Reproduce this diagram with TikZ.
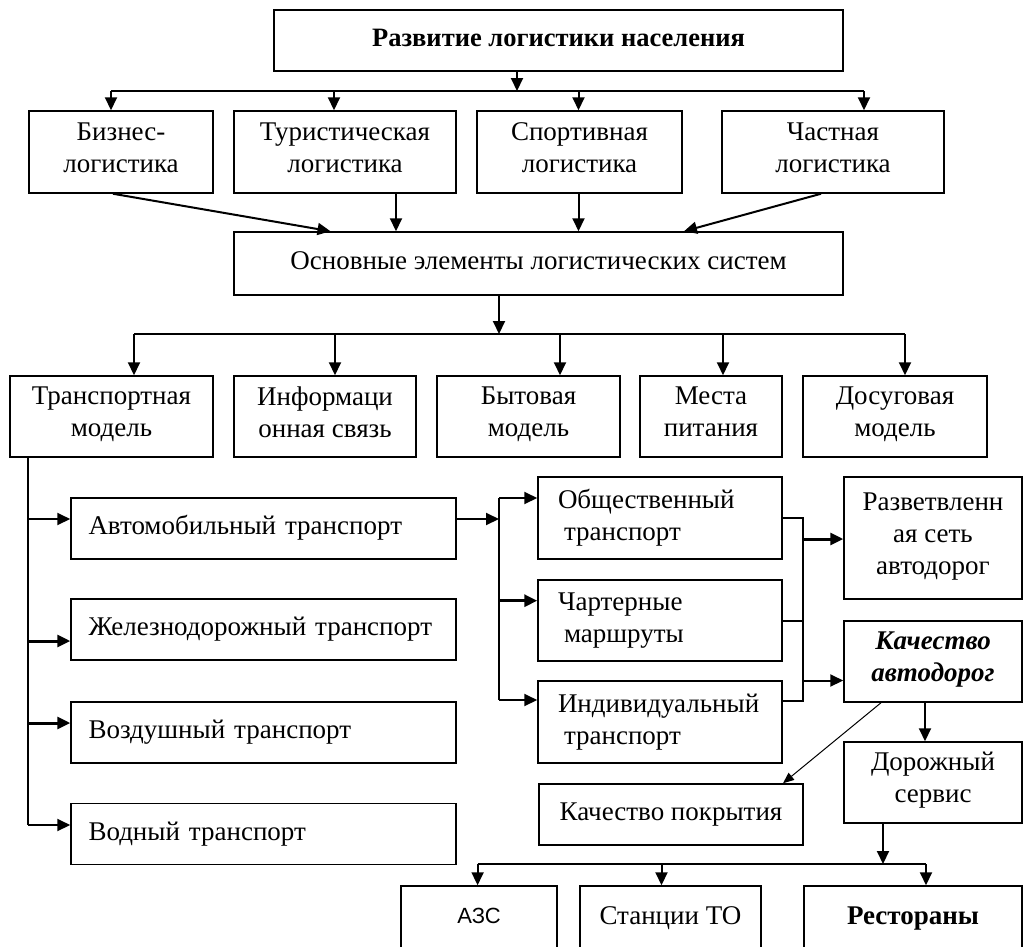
\documentclass[tikz,border=0pt]{standalone}
\usepackage{fontspec}
\setmainfont{Liberation Serif}
\newfontfamily\azsfont{Liberation Sans}
\usetikzlibrary{arrows.meta}
\tikzset{
  box/.style={draw, line width=1.5pt, inner sep=0pt, align=center, font=\fontsize{27}{32}\selectfont,
    execute at begin node=\strut, execute at end node=\strut},
  lbox/.style={box, align=left},
  line/.style={line width=2pt},
  arr/.style={line width=2pt, -{Triangle[length=13pt,width=12pt]}},
  heavy/.style={line width=3pt},
  thinarr/.style={line width=1pt, -{Triangle[length=11pt,width=9pt]}}
}
\begin{document}
\begin{tikzpicture}[x=1pt,y=-1pt]
    \useasboundingbox (0,0) rectangle (1026,946);
    \clip (0,0) rectangle (1026,946);

    \node[box, minimum width=569pt, minimum height=61pt, font=\fontsize{26.5}{30}\selectfont\bfseries] (top) at (558.5,40.5) {Развитие логистики населения};

    \node[box, minimum width=184pt, minimum height=82pt] (biz) at (121,152) {Бизнес-\\логистика};
    \node[box, minimum width=222pt, minimum height=82pt] (tour) at (345,152) {Туристическая\\логистика};
    \node[box, minimum width=205pt, minimum height=82pt] (sport) at (579.5,152) {Спортивная\\логистика};
    \node[box, minimum width=222pt, minimum height=82pt] (priv) at (833,152) {Частная\\логистика};

    \node[box, minimum width=609pt, minimum height=63pt] (base) at (538.5,263.5) {Основные элементы логистических систем};

    \node[box, minimum width=203pt, minimum height=81pt] (trm) at (111.5,416.5) {Транспортная\\модель};
    \node[box, minimum width=182pt, minimum height=81pt] (info) at (325,416.5) {Информаци\\онная связь};
    \node[box, minimum width=183pt, minimum height=81pt] (byt) at (528.5,416.5) {Бытовая\\модель};
    \node[box, minimum width=142pt, minimum height=81pt] (food) at (711,416.5) {Места\\питания};
    \node[box, minimum width=184pt, minimum height=81pt] (leis) at (895,416.5) {Досуговая\\модель};

    \node[lbox, minimum width=385pt, minimum height=61pt, text width=350pt] (auto) at (263.5,528.5) {Автомобильный транспорт};
    \node[lbox, minimum width=385pt, minimum height=61pt, text width=350pt] (rail) at (263.5,629.5) {Железнодорожный транспорт};
    \node[lbox, minimum width=385pt, minimum height=61pt, text width=350pt] (air) at (263.5,732.5) {Воздушный транспорт};
    \node[lbox, minimum width=385pt, minimum height=61pt, text width=350pt] (water) at (263.5,834) {Водный транспорт};

    \node[lbox, minimum width=244pt, minimum height=82pt, text width=204pt] (pub) at (660,518) {Общественный\\\hspace*{6pt}транспорт};
    \node[lbox, minimum width=244pt, minimum height=81pt, text width=204pt] (chart) at (660,620.5) {Чартерные\\\hspace*{6pt}маршруты};
    \node[lbox, minimum width=244pt, minimum height=82pt, text width=204pt] (indiv) at (660,722) {Индивидуальный\\\hspace*{6pt}транспорт};

    \node[box, minimum width=178pt, minimum height=122pt] (roads) at (933,538) {Разветвленн\\ая сеть\\автодорог};
    \node[box, minimum width=178pt, minimum height=81pt, font=\fontsize{27}{32}\selectfont\bfseries\itshape] (qual) at (933,661.5) {Качество\\автодорог};
    \node[box, minimum width=178pt, minimum height=81pt] (rserv) at (933,782.5) {Дорожный\\сервис};
    \node[box, minimum width=264pt, minimum height=61pt] (cover) at (671,814.5) {Качество покрытия};

    \node[box, minimum width=156pt, minimum height=64pt, font=\azsfont\fontsize{22}{26}\selectfont] (azs) at (479,918) {АЗС};
    \node[box, minimum width=181pt, minimum height=64pt] (station) at (670.5,918) {Станции ТО};
    \node[box, minimum width=218pt, minimum height=64pt, font=\fontsize{27}{32}\selectfont\bfseries] (rest) at (913,918) {Рестораны};

    \coordinate (b1) at (517,91);
    \draw[arr] (top.south -| b1) -- (b1);
    \foreach \n/\s in {biz/-10, tour/-11, sport/-1, priv/31} {
        \coordinate (\n-in) at ([xshift=\s pt]\n.north);
        \draw[arr] (\n-in |- b1) -- (\n-in);
    }
    \draw[line] (biz-in |- b1) -- (priv-in |- b1);

    \draw[arr] ([xshift=-8pt]biz.south) -- ([xshift=-208pt]base.north);
    \coordinate (tour-out) at ([xshift=51pt]tour.south);
    \draw[arr] (tour-out) -- (tour-out |- base.north);
    \coordinate (sport-out) at ([xshift=-1pt]sport.south);
    \draw[arr] (sport-out) -- (sport-out |- base.north);
    \draw[arr] ([xshift=-12pt]priv.south) -- ([xshift=145.5pt]base.north);

    \coordinate (b2) at (499,334);
    \draw[arr] (base.south -| b2) -- (b2);
    \foreach \n/\s in {trm/22.5, info/10, byt/31.5, food/12, leis/10} {
        \coordinate (\n-in) at ([xshift=\s pt]\n.north);
        \draw[arr] (\n-in |- b2) -- (\n-in);
    }
    \draw[line] (trm-in |- b2) -- (leis-in |- b2);

    \coordinate (tr) at ([xshift=-84pt]trm.south);
    \coordinate (auto-in) at ([yshift=9.5pt]auto.west);
    \coordinate (rail-in) at ([yshift=-11.5pt]rail.west);
    \coordinate (air-in) at ([yshift=9.5pt]air.west);
    \coordinate (water-in) at ([yshift=9pt]water.west);
    \draw[line] (tr) -- (tr |- water-in);
    \draw[arr] (tr |- auto-in) -- (auto-in);
    \draw[arr, heavy] (tr |- rail-in) -- (rail-in);
    \draw[arr, heavy] (tr |- air-in) -- (air-in);
    \draw[arr] (tr |- water-in) -- (water-in);

    \coordinate (mj) at (499,519);
    \coordinate (pub-in) at ([yshift=20pt]pub.west);
    \coordinate (chart-in) at ([yshift=19.8pt]chart.west);
    \coordinate (indiv-in) at ([yshift=22pt]indiv.west);
    \draw[arr] ([yshift=9.5pt]auto.east) -- (mj);
    \draw[line] (mj |- pub-in) -- (mj |- indiv-in);
    \draw[arr] (mj |- pub-in) -- (pub-in);
    \draw[arr, heavy] (mj |- chart-in) -- (chart-in);
    \draw[arr] (mj |- indiv-in) -- (indiv-in);

    \coordinate (rj) at (803,539);
    \coordinate (indiv-out) at ([yshift=21pt]indiv.east);
    \coordinate (qual-in) at ([yshift=-19pt]qual.west);
    \draw[line] (pub.east) -- (rj |- pub.east) -- (rj |- indiv-out) -- (indiv-out);
    \draw[line] (chart.east) -- (rj |- chart.east);
    \draw[arr, heavy] (rj) -- (rj -| roads.west);
    \draw[arr] (rj |- qual-in) -- (qual-in);

    \draw[arr] ([xshift=-8pt]qual.south) -- ([xshift=-8pt]rserv.north);
    \draw[thinarr] ([xshift=-52pt]qual.south) -- ([xshift=112pt]cover.north);

    \coordinate (b3) at (883,864);
    \draw[arr] (rserv.south -| b3) -- (b3);
    \foreach \n/\s in {azs/-1.4, station/-9, rest/13} {
        \coordinate (\n-in) at ([xshift=\s pt]\n.north);
        \draw[arr] (\n-in |- b3) -- (\n-in);
    }
    \draw[line] (azs-in |- b3) -- (rest-in |- b3);
\end{tikzpicture}
\end{document}
